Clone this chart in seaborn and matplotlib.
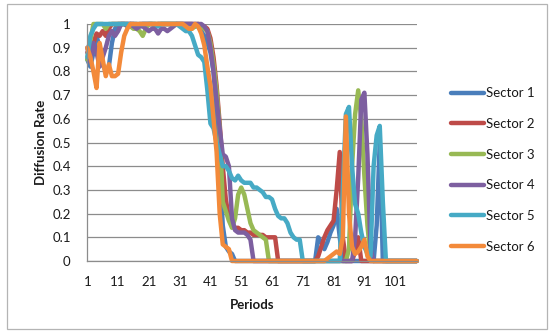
import matplotlib
matplotlib.use("Agg")
import matplotlib.pyplot as plt
from matplotlib.patches import Rectangle
import numpy as np
import pandas as pd
import seaborn as sns

# ---- data -------------------------------------------------------------
periods = list(range(1, 109))

sector_1 = [
    0.85, 0.82, 0.88, 0.95, 0.90, 0.83, 0.80, 0.82, 0.92, 0.98,
    1.00, 1.00, 1.00, 0.99, 1.00, 1.00, 1.00, 0.99, 1.00, 1.00,
    1.00, 1.00, 0.99, 1.00, 1.00, 1.00, 1.00, 1.00, 1.00, 1.00,
    1.00, 1.00, 1.00, 1.00, 1.00, 0.99, 0.99, 0.97, 0.95, 0.92,
    0.88, 0.80, 0.62, 0.40, 0.15, 0.06, 0.04, 0.03, 0.00, 0.00,
    0, 0, 0, 0, 0, 0, 0, 0, 0, 0,
    0, 0, 0, 0, 0, 0, 0, 0, 0, 0,
    0, 0, 0, 0, 0, 0.10, 0.08, 0.05, 0.08, 0.12,
    0.15, 0.22, 0.10, 0, 0, 0, 0, 0, 0, 0,
    0, 0, 0, 0, 0.15, 0.50, 0, 0, 0, 0,
    0, 0, 0, 0, 0, 0, 0, 0,
]

sector_2 = [
    0.88, 0.86, 0.92, 0.96, 0.95, 0.97, 0.95, 0.98, 1.00, 1.00,
    1.00, 1.00, 1.00, 1.00, 1.00, 1.00, 0.99, 1.00, 1.00, 1.00,
    1.00, 1.00, 1.00, 1.00, 1.00, 1.00, 1.00, 1.00, 1.00, 1.00,
    1.00, 1.00, 1.00, 1.00, 1.00, 1.00, 1.00, 0.99, 0.99, 0.98,
    0.94, 0.86, 0.74, 0.58, 0.40, 0.26, 0.18, 0.15, 0.14, 0.14,
    0.13, 0.13, 0.12, 0.12, 0.11, 0.11, 0.11, 0.11, 0.10, 0.10,
    0.10, 0.10, 0, 0, 0, 0, 0, 0, 0, 0,
    0, 0, 0, 0, 0, 0.02, 0.06, 0.10, 0.13, 0.15,
    0.17, 0.30, 0.46, 0.10, 0, 0, 0, 0.04, 0.10, 0,
    0, 0, 0, 0, 0, 0, 0, 0, 0, 0,
    0, 0, 0, 0, 0, 0, 0, 0,
]

sector_3 = [
    0.85, 0.93, 1.00, 1.00, 1.00, 1.00, 0.98, 1.00, 1.00, 1.00,
    1.00, 1.00, 1.00, 1.00, 0.99, 0.98, 0.98, 0.97, 0.95, 0.98,
    1.00, 1.00, 1.00, 1.00, 1.00, 1.00, 1.00, 1.00, 1.00, 1.00,
    1.00, 1.00, 0.99, 0.98, 0.98, 0.99, 1.00, 0.99, 0.98, 0.97,
    0.92, 0.83, 0.72, 0.56, 0.25, 0.21, 0.17, 0.14, 0.18, 0.28,
    0.31, 0.28, 0.22, 0.16, 0.13, 0.12, 0.11, 0.10, 0.09, 0,
    0, 0, 0, 0, 0, 0, 0, 0, 0, 0,
    0, 0, 0, 0, 0, 0, 0, 0, 0, 0,
    0, 0, 0, 0, 0, 0.05, 0.40, 0.62, 0.72, 0.60,
    0.36, 0.15, 0.02, 0, 0, 0, 0, 0, 0, 0,
    0, 0, 0, 0, 0, 0, 0, 0,
]

sector_4 = [
    0.90, 0.84, 0.92, 0.88, 0.82, 0.86, 0.90, 0.95, 0.97, 0.95,
    0.97, 1.00, 1.00, 1.00, 1.00, 0.99, 0.98, 0.99, 0.99, 0.98,
    0.97, 0.98, 0.98, 0.96, 0.98, 0.98, 0.97, 0.98, 0.99, 1.00,
    1.00, 1.00, 1.00, 1.00, 1.00, 1.00, 1.00, 1.00, 0.99, 0.97,
    0.90, 0.80, 0.68, 0.56, 0.45, 0.44, 0.40, 0.18, 0.13, 0.12,
    0.12, 0.12, 0.11, 0.09, 0, 0, 0, 0, 0, 0,
    0, 0, 0, 0, 0, 0, 0, 0, 0, 0,
    0, 0, 0, 0, 0, 0, 0, 0, 0, 0,
    0, 0, 0, 0, 0, 0, 0, 0.10, 0.35, 0.68,
    0.71, 0.45, 0.05, 0, 0, 0, 0, 0, 0, 0,
    0, 0, 0, 0, 0, 0, 0, 0,
]

sector_5 = [
    0.86, 0.95, 0.98, 1.00, 1.00, 1.00, 1.00, 1.00, 1.00, 1.00,
    1.00, 1.00, 1.00, 1.00, 1.00, 1.00, 1.00, 1.00, 1.00, 1.00,
    1.00, 1.00, 1.00, 0.99, 1.00, 1.00, 1.00, 1.00, 1.00, 1.00,
    0.99, 0.98, 0.97, 0.97, 0.95, 0.91, 0.87, 0.86, 0.84, 0.72,
    0.58, 0.56, 0.50, 0.45, 0.40, 0.40, 0.38, 0.35, 0.34, 0.36,
    0.34, 0.33, 0.33, 0.33, 0.31, 0.31, 0.30, 0.29, 0.27, 0.27,
    0.26, 0.22, 0.19, 0.18, 0.18, 0.16, 0.12, 0.10, 0.09, 0.09,
    0, 0, 0, 0, 0, 0, 0, 0, 0, 0,
    0, 0, 0, 0.30, 0.62, 0.65, 0.40, 0.24, 0.20, 0.12,
    0.06, 0.03, 0.02, 0.40, 0.53, 0.57, 0.25, 0, 0, 0,
    0, 0, 0, 0, 0, 0, 0, 0,
]

sector_6 = [
    0.90, 0.86, 0.80, 0.73, 0.92, 0.85, 0.78, 0.83, 0.78, 0.78,
    0.79, 0.88, 0.95, 0.98, 1.00, 1.00, 1.00, 1.00, 1.00, 1.00,
    1.00, 1.00, 1.00, 1.00, 1.00, 1.00, 1.00, 1.00, 1.00, 1.00,
    1.00, 1.00, 0.99, 0.98, 0.98, 1.00, 0.99, 0.96, 0.91, 0.82,
    0.74, 0.60, 0.46, 0.20, 0.07, 0.06, 0.05, 0, 0, 0,
    0, 0, 0, 0, 0, 0, 0, 0, 0, 0,
    0, 0, 0, 0, 0, 0, 0, 0, 0, 0,
    0, 0, 0, 0, 0, 0, 0, 0, 0.01, 0.02,
    0.03, 0.04, 0.03, 0.10, 0.61, 0.20, 0.06, 0.03, 0.04, 0.06,
    0.09, 0.02, 0, 0, 0, 0, 0, 0, 0, 0,
    0, 0, 0, 0, 0, 0, 0, 0,
]

sector_names = ["Sector 1", "Sector 2", "Sector 3", "Sector 4", "Sector 5", "Sector 6"]
sector_values = [sector_1, sector_2, sector_3, sector_4, sector_5, sector_6]
sector_colors = ["#4A7EBB", "#BE4B48", "#98B954", "#7D5FA0", "#46AAC5", "#F38A3A"]

x_tick_labels = [1, 11, 21, 31, 41, 51, 61, 71, 81, 91, 101]
y_ticks = [0, 0.1, 0.2, 0.3, 0.4, 0.5, 0.6, 0.7, 0.8, 0.9, 1]

df = pd.concat(
    [pd.DataFrame({"Periods": periods, "Diffusion Rate": vals, "Sector": name})
     for name, vals in zip(sector_names, sector_values)],
    ignore_index=True,
)

# ---- style ------------------------------------------------------------
sns.set_theme(style="white")
plt.rcParams["font.family"] = ["Lato", "DejaVu Sans"]
grey = "#8C8C8C"
text_col = "#1a1a1a"
lw = 3.2

W, H = 550, 331
fig = plt.figure(figsize=(W / 100, H / 100), dpi=100)
fig.patch.set_facecolor("white")

left_px, right_px, top_px, bottom_px = 87.3, 416.7, 24, 261
ax = fig.add_axes([left_px / W, 1 - bottom_px / H,
                   (right_px - left_px) / W, (bottom_px - top_px) / H])

sns.lineplot(data=df, x="Periods", y="Diffusion Rate", hue="Sector",
             hue_order=sector_names, palette=sector_colors,
             estimator=None, linewidth=lw, ax=ax, legend=True)

for line in ax.lines:
    line.set_solid_capstyle("round")
    line.set_solid_joinstyle("round")
    line.set_clip_on(False)

ax.set_xlim(1, 108)
ax.set_ylim(0, 1)

# gridlines and axes
ax.set_yticks(y_ticks)
ax.set_yticklabels([f"{v:g}" for v in y_ticks])
ax.yaxis.grid(True, color=grey, linewidth=0.9)
ax.xaxis.grid(False)
ax.set_axisbelow(True)
for side in ("top", "right"):
    ax.spines[side].set_visible(False)
for side in ("left", "bottom"):
    ax.spines[side].set_color(grey)
    ax.spines[side].set_linewidth(0.9)

ax.set_xticks(x_tick_labels)
ax.set_xticklabels([str(v) for v in x_tick_labels])
ax.set_xticks(periods, minor=True)
ax.tick_params(axis="x", which="both", direction="out", length=3.0,
               width=0.7, color=grey)
ax.tick_params(axis="x", which="major", pad=8, labelsize=9.5, labelcolor=text_col)
ax.tick_params(axis="y", which="major", direction="out", length=3.0,
               width=0.7, color=grey, pad=9, labelsize=9.5, labelcolor=text_col)

ax.set_xlabel("Periods", fontsize=9.5, fontweight="bold", color=text_col, labelpad=8)
ax.set_ylabel("Diffusion Rate", fontsize=9.5, fontweight="bold", color=text_col, labelpad=4)

# legend on the right
handles, labels = ax.get_legend_handles_labels()
ax.get_legend().remove()
for h in handles:
    h.set_linewidth(lw)
    h.set_solid_capstyle("round")
leg = fig.legend(handles, labels, loc="center left",
                 bbox_to_anchor=(451 / W, 1 - 170 / H),
                 frameon=False, fontsize=9.5, handlelength=2.5,
                 handletextpad=0.15, labelspacing=1.42,
                 borderpad=0, borderaxespad=0)
for t in leg.get_texts():
    t.set_color(text_col)

# chart border
fig.patches.append(Rectangle((7 / W, 2 / H), (547 - 7) / W, (327 - 2) / H,
                             transform=fig.transFigure, fill=False,
                             edgecolor="#B4B4B4", linewidth=0.9))

fig.savefig("out.png", dpi=100)
